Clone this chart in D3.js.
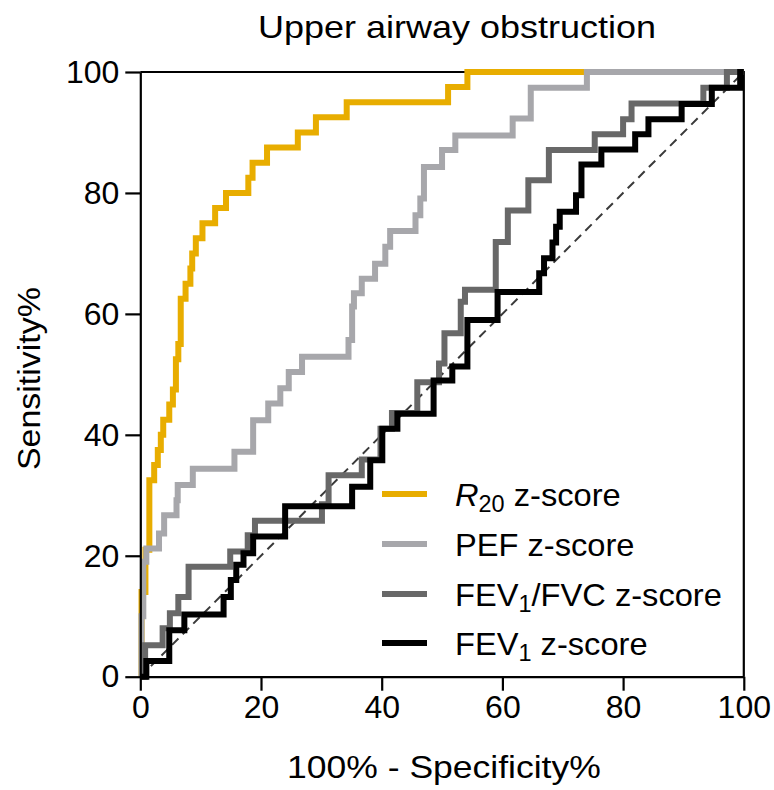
<!DOCTYPE html>
<html>
<head>
<meta charset="utf-8">
<script src="https://cdn.jsdelivr.net/npm/d3@7"></script>
<style>
  body { margin: 0; background: #fff; }
  svg { display: block; font-family: "Liberation Sans", Arial, sans-serif; }
</style>
</head>
<body>
<script>
// ROC curves: x = 100% - specificity where the curve steps up, y = sensitivity after the step
var r20X = [0.2, 0.85, 1.5, 2.3, 2.9, 3.4, 3.8, 4.8, 5.4, 5.9, 6.3, 6.7, 7.5, 8.3, 8.6, 9.2, 10.3, 12.4, 14.2, 17.9, 18.6, 21.0, 26.1, 29.1, 34.2, 51.0, 54.2];
var r20Y = [14, 21, 32.5, 35, 37.5, 40, 42.5, 45, 47.5, 52.5, 55, 62.5, 65, 67.5, 70, 72.5, 75, 77.5, 80, 82.5, 85, 87.5, 90, 92.5, 95, 97.5, 100];

var pefX = [0.2, 0.5, 1.0, 3.1, 3.95, 6.0, 6.2, 8.7, 15.6, 18.7, 21.2, 23.2, 24.6, 26.8, 34.5, 35.1, 35.4, 36.7, 38.9, 40.6, 41.4, 45.6, 46.4, 47.0, 50.0, 52.2, 61.7, 64.7, 74.0];
var pefY = [10, 19, 21.2, 23.7, 26.7, 29.2, 31.7, 34.4, 37.2, 42.4, 45.2, 47.7, 50.4, 52.9, 55.7, 61.2, 63.4, 65.8, 68.3, 71.1, 73.7, 76.3, 79.1, 84.3, 87.1, 89.5, 92.3, 97.4, 100];

var ratioX = [0.8, 3.7, 4.9, 6.3, 8.0, 14.9, 17.8, 19.0, 30.1, 31.2, 36.7, 39.8, 41.7, 45.9, 49.5, 50.4, 53.1, 53.8, 58.9, 60.9, 64.3, 67.7, 75.3, 80.0, 81.4, 93.3, 97.2];
var ratioY = [5.2, 8.0, 10.5, 13.2, 18.2, 20.7, 23.4, 25.8, 28.5, 33.3, 35.9, 41.0, 43.6, 48.7, 51.8, 56.8, 62.0, 64.0, 71.9, 77.1, 82.1, 87.1, 89.7, 92.2, 94.8, 97.4, 100];

var fev1X = [1.0, 4.8, 7.3, 13.8, 15.0, 15.9, 17.1, 18.7, 24.0, 35.1, 38.1, 40.1, 42.6, 48.6, 51.7, 54.2, 59.2, 66.1, 66.9, 68.3, 68.9, 69.5, 72.2, 73.1, 76.4, 82.0, 84.2, 89.7, 94.7, 99.4];
var fev1Y = [2.6, 7.7, 10.3, 13.2, 16.0, 18.5, 20.4, 23.2, 28.2, 31.4, 35.8, 41.0, 43.5, 49.0, 51.3, 59.0, 63.6, 66.7, 69.2, 71.8, 74.4, 76.9, 79.6, 84.7, 87.2, 89.7, 92.2, 94.7, 97.4, 100];

var tickValues = [0, 20, 40, 60, 80, 100];

var series = [
    { name: "R20", xs: r20X, ys: r20Y, color: "#E8AD00" },
    { name: "PEF", xs: pefX, ys: pefY, color: "#A7A7AB" },
    { name: "FEV1/FVC", xs: ratioX, ys: ratioY, color: "#686868" },
    { name: "FEV1", xs: fev1X, ys: fev1Y, color: "#000000" }
];

var width = 774, height = 790;
var plotLeft = 140.3, plotRight = 743.8, plotTop = 72, plotBottom = 676.7;

var svg = d3.select("body").append("svg")
            .attr("width", width)
            .attr("height", height);

var x = d3.scaleLinear().domain([0, 100]).range([plotLeft, plotRight]);
var y = d3.scaleLinear().domain([0, 100]).range([plotBottom, plotTop]);

// frame (top and right)
svg.append("path")
   .attr("d", "M" + plotLeft + "," + plotTop + "H" + plotRight + "V" + plotBottom)
   .attr("fill", "none")
   .attr("stroke", "#000")
   .attr("stroke-width", 2.2);

// chance line
svg.append("line")
   .attr("x1", x(0)).attr("y1", y(0))
   .attr("x2", x(100)).attr("y2", y(100))
   .attr("stroke", "#3a3a3a")
   .attr("stroke-width", 2)
   .attr("stroke-dasharray", "9,6");

var line = d3.line()
             .x(function (d) { return x(d[0]); })
             .y(function (d) { return y(d[1]); })
             .curve(d3.curveStepAfter);

svg.append("g")
   .attr("class", "curves")
   .selectAll("path")
   .data(series)
   .enter().append("path")
   .attr("d", function (s) {
       var pts = [[0, 0]].concat(d3.zip(s.xs, s.ys));
       pts.push([100, 100]);
       return line(pts);
   })
   .attr("fill", "none")
   .attr("stroke", function (s) { return s.color; })
   .attr("stroke-width", 6)
   .attr("stroke-linejoin", "miter")
   .attr("stroke-linecap", "butt");

// axes
var yAxis = svg.append("g")
               .attr("transform", "translate(" + plotLeft + ",0)")
               .call(d3.axisLeft(y).tickValues(tickValues).tickSize(15).tickSizeOuter(0).tickPadding(6));
var xAxis = svg.append("g")
               .attr("transform", "translate(0," + plotBottom + ")")
               .call(d3.axisBottom(x).tickValues(tickValues).tickSize(14).tickSizeOuter(0).tickPadding(5));

[xAxis, yAxis].forEach(function (a) {
    a.selectAll("path, line").attr("stroke", "#000").attr("stroke-width", 2.2);
    a.selectAll("text")
     .attr("fill", "#000")
     .style("font-size", "32px")
     .style("font-family", "'Liberation Sans', Arial, sans-serif");
});

// titles (the reference type is a little wider than Liberation Sans)
svg.append("text")
   .attr("transform", "translate(258,38) scale(1.125,1)")
   .style("font-size", "32px")
   .text("Upper airway obstruction");

svg.append("text")
   .attr("transform", "translate(287,778) scale(1.11,1)")
   .style("font-size", "32px")
   .text("100% - Specificity%");

svg.append("text")
   .attr("transform", "translate(40,470) rotate(-90) scale(1.06,1)")
   .style("font-size", "32px")
   .text("Sensitivity%");

// legend
var legendRows = [494, 544, 594, 643];
var legend = svg.append("g").attr("class", "legend");

legend.selectAll("line")
      .data(series)
      .enter().append("line")
      .attr("x1", 382).attr("x2", 427)
      .attr("y1", function (d, i) { return legendRows[i]; })
      .attr("y2", function (d, i) { return legendRows[i]; })
      .attr("stroke", function (d) { return d.color; })
      .attr("stroke-width", 6);

var labels = legend.selectAll("text")
                   .data(series)
                   .enter().append("text")
                   .attr("transform", function (d, i) {
                       return "translate(455," + (legendRows[i] + 12) + ") scale(1.02,1)";
                   })
                   .style("font-size", "32px");

function label(sel, main, sub, rest, italic) {
    var m = sel.append("tspan").text(main);
    if (italic) m.style("font-style", "italic");
    sel.append("tspan").attr("dy", 6).style("font-size", "23px").text(sub);
    sel.append("tspan").attr("dy", -6).text(rest);
}

labels.each(function (d) {
    var t = d3.select(this);
    if (d.name === "R20") label(t, "R", "20", " z-score", true);
    else if (d.name === "PEF") t.text("PEF z-score");
    else if (d.name === "FEV1/FVC") label(t, "FEV", "1", "/FVC z-score", false);
    else label(t, "FEV", "1", " z-score", false);
});
</script>
</body>
</html>
